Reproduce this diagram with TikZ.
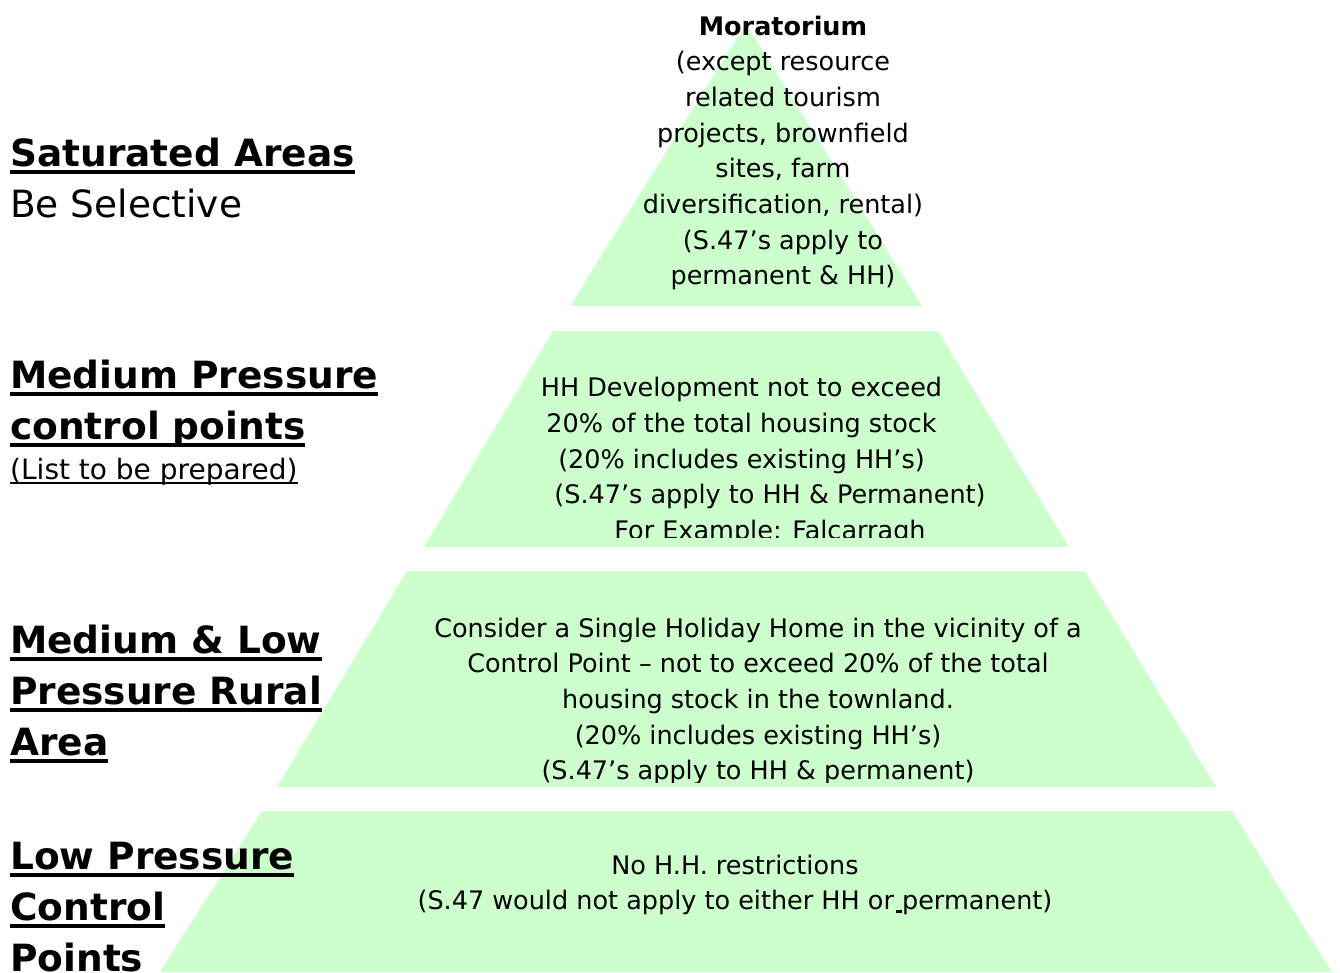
\documentclass[tikz,border=0pt]{standalone}
\usepackage{fontspec}
\setmainfont{DejaVu Sans}
\definecolor{tiergreen}{RGB}{204,255,204}
\newcommand{\ulhead}[1]{\setbox0=\hbox{#1}\rlap{\rule[-8pt]{\wd0}{4pt}}\box0}
\newcommand{\ulnote}[1]{\setbox0=\hbox{#1}\rlap{\rule[-5pt]{\wd0}{2.2pt}}\box0}

\begin{document}
\begin{tikzpicture}[x=1pt,y=-1pt,
		tier/.style={fill=tiergreen},
		body/.style={align=center,inner sep=0pt,font=\fontsize{25.5}{35.7}\selectfont},
		head/.style={anchor=base west,inner sep=0pt,font=\fontsize{37.5}{51}\selectfont\bfseries},
		plain/.style={anchor=base west,inner sep=0pt,font=\fontsize{37.5}{51}\selectfont}]
		\useasboundingbox (0,0) rectangle (1340,972);

		% pyramid tiers
		\fill[tier] (746,24) -- (922,306) -- (570,306) -- cycle;
		\fill[tier] (553,331) -- (938,331) -- (1069,547) -- (424,547) -- cycle;
		\fill[tier] (407,571) -- (1085,571) -- (1216,787) -- (277,787) -- cycle;
		\fill[tier] (262,811) -- (1232,811) -- (1332,972) -- (160,972) -- cycle;

		% tier texts
		\node[body] (moratorium) at (783,153) {\textbf{Moratorium}\\(except resource\\related tourism\\projects, brownfield\\sites, farm\\diversification, rental)\\(S.47’s apply to\\permanent \& HH)};
		\begin{scope}
			\clip (0,0) rectangle (1340,537);
			\node[body] (medium) at (741.5,461) {HH Development not to exceed\\20\% of the total housing stock\\(20\% includes existing HH’s)\\\hspace*{57pt}(S.47’s apply to HH \& Permanent)\\\hspace*{57pt}For Example: Falcarragh};
		\end{scope}
		\begin{scope}
			\clip (0,0) rectangle (1340,782);
			\node[body] (rural) at (758,701.5) {Consider a Single Holiday Home in the vicinity of a\\Control Point – not to exceed 20\% of the total\\housing stock in the townland.\\(20\% includes existing HH’s)\\(S.47’s apply to HH \& permanent)};
		\end{scope}
		\node[body] (low) at (735,885) {No H.H. restrictions\\(S.47 would not apply to either HH or\makebox[0.318em][r]{\rule[-3pt]{6pt}{2.5pt}}permanent)};

		% left headings
		\node[head] (sat1) at (10,166) {\ulhead{Saturated Areas}};
		\node[plain] (sat2) at (10,217) {Be Selective};
		\node[head] (med1) at (10,388) {\ulhead{Medium Pressure}};
		\node[head] (med2) at (10,439) {\ulhead{control points}};
		\node[anchor=base west,inner sep=0pt,font=\fontsize{28}{34}\selectfont] (med3) at (10,479) {\ulnote{(List to be prepared)}};
		\node[head] (ml1) at (10,653) {\ulhead{Medium \& Low}};
		\node[head] (ml2) at (10,704) {\ulhead{Pressure Rural}};
		\node[head] (ml3) at (10,755) {\ulhead{Area}};
		\node[head] (lp1) at (10,869) {\ulhead{Low Pressure}};
		\node[head] (lp2) at (10,920) {\ulhead{Control}};
		\node[head] (lp3) at (10,971) {\ulhead{Points}};
\end{tikzpicture}
\end{document}
